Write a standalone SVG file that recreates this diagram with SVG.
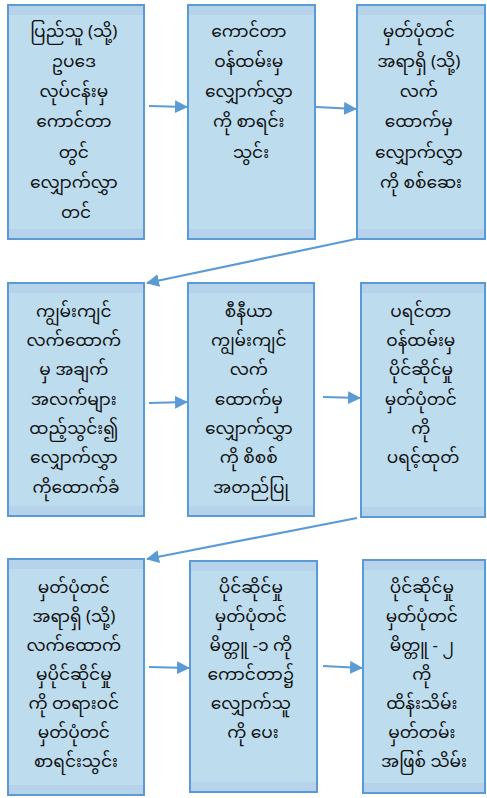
<svg xmlns="http://www.w3.org/2000/svg" width="487" height="798" viewBox="0 0 487 798">
  <defs>
    <linearGradient id="boxFill" x1="0" y1="0" x2="0" y2="1">
      <stop offset="0" stop-color="#B7D3EC"/>
      <stop offset="0.043" stop-color="#B7D3EC"/>
      <stop offset="0.044" stop-color="#BDDDEF"/>
      <stop offset="0.957" stop-color="#BDDDEF"/>
      <stop offset="0.958" stop-color="#B7D3EC"/>
      <stop offset="1" stop-color="#B7D3EC"/>
    </linearGradient>
    <marker id="arrow" markerUnits="userSpaceOnUse" markerWidth="13" markerHeight="13" refX="12" refY="6.5" orient="auto">
      <path d="M0,0 L13,6.5 L0,13 z" fill="#5B9BD5"/>
    </marker>
  </defs>
  <style>
    .box { fill: url(#boxFill); stroke: #5B9BD5; stroke-width: 2; }
    .lbl { font-family: "Noto Sans Myanmar", "Padauk", "Myanmar Text", "Noto Sans", sans-serif; font-size: 17px; fill: #111111; text-anchor: middle; }
    .conn { fill: none; stroke: #5B9BD5; stroke-width: 2.2; marker-end: url(#arrow); }
  </style>

  <!-- row 1 -->
  <g id="step1">
    <rect class="box" x="8" y="5" width="136" height="234"/>
    <text class="lbl">
      <tspan x="76" y="37">ပြည်သူ (သို့)</tspan>
      <tspan x="76" y="67">ဥပဒေ</tspan>
      <tspan x="76" y="97">လုပ်ငန်းမှ</tspan>
      <tspan x="76" y="127">ကောင်တာ</tspan>
      <tspan x="76" y="158">တွင်</tspan>
      <tspan x="76" y="188">လျှောက်လွှာ</tspan>
      <tspan x="76" y="218">တင်</tspan>
    </text>
  </g>
  <g id="step2">
    <rect class="box" x="188" y="5" width="127" height="234"/>
    <text class="lbl">
      <tspan x="251" y="37">ကောင်တာ</tspan>
      <tspan x="251" y="67">ဝန်ထမ်းမှ</tspan>
      <tspan x="251" y="97">လျှောက်လွှာ</tspan>
      <tspan x="251" y="127">ကို စာရင်း</tspan>
      <tspan x="251" y="158">သွင်း</tspan>
    </text>
  </g>
  <g id="step3">
    <rect class="box" x="357" y="5" width="128" height="234"/>
    <text class="lbl">
      <tspan x="421" y="37">မှတ်ပုံတင်</tspan>
      <tspan x="421" y="67">အရာရှိ (သို့)</tspan>
      <tspan x="421" y="97">လက်</tspan>
      <tspan x="421" y="127">ထောက်မှ</tspan>
      <tspan x="421" y="158">လျှောက်လွှာ</tspan>
      <tspan x="421" y="188">ကို စစ်ဆေး</tspan>
    </text>
  </g>

  <!-- row 2 -->
  <g id="step4">
    <rect class="box" x="8" y="283" width="136" height="233"/>
    <text class="lbl">
      <tspan x="76" y="317">ကျွမ်းကျင်</tspan>
      <tspan x="76" y="346">လက်ထောက်</tspan>
      <tspan x="76" y="375">မှ အချက်</tspan>
      <tspan x="76" y="405">အလက်များ</tspan>
      <tspan x="76" y="434">ထည့်သွင်း၍</tspan>
      <tspan x="76" y="463">လျှောက်လွှာ</tspan>
      <tspan x="76" y="493">ကိုထောက်ခံ</tspan>
    </text>
  </g>
  <g id="step5">
    <rect class="box" x="188" y="283" width="126" height="233"/>
    <text class="lbl">
      <tspan x="251" y="317">စီနီယာ</tspan>
      <tspan x="251" y="346">ကျွမ်းကျင်</tspan>
      <tspan x="251" y="375">လက်</tspan>
      <tspan x="251" y="405">ထောက်မှ</tspan>
      <tspan x="251" y="434">လျှောက်လွှာ</tspan>
      <tspan x="251" y="463">ကို စိစစ်</tspan>
      <tspan x="251" y="493">အတည်ပြု</tspan>
    </text>
  </g>
  <g id="step6">
    <rect class="box" x="361" y="283" width="124" height="234"/>
    <text class="lbl">
      <tspan x="423" y="317">ပရင်တာ</tspan>
      <tspan x="423" y="346">ဝန်ထမ်းမှ</tspan>
      <tspan x="423" y="375">ပိုင်ဆိုင်မှု</tspan>
      <tspan x="423" y="405">မှတ်ပုံတင်</tspan>
      <tspan x="423" y="434">ကို</tspan>
      <tspan x="423" y="463">ပရင့်ထုတ်</tspan>
    </text>
  </g>

  <!-- row 3 -->
  <g id="step7">
    <rect class="box" x="8" y="559" width="136" height="236"/>
    <text class="lbl">
      <tspan x="76" y="593">မှတ်ပုံတင်</tspan>
      <tspan x="76" y="622">အရာရှိ (သို့)</tspan>
      <tspan x="76" y="651">လက်ထောက်</tspan>
      <tspan x="76" y="680">မှပိုင်ဆိုင်မှု</tspan>
      <tspan x="76" y="709">ကို တရားဝင်</tspan>
      <tspan x="76" y="738">မှတ်ပုံတင်</tspan>
      <tspan x="76" y="767">စာရင်းသွင်း</tspan>
    </text>
  </g>
  <g id="step8">
    <rect class="box" x="190" y="561" width="127" height="231"/>
    <text class="lbl">
      <tspan x="253" y="593">ပိုင်ဆိုင်မှု</tspan>
      <tspan x="253" y="622">မှတ်ပုံတင်</tspan>
      <tspan x="253" y="651">မိတ္တူ -၁ ကို</tspan>
      <tspan x="253" y="680">ကောင်တာ၌</tspan>
      <tspan x="253" y="709">လျှောက်သူ</tspan>
      <tspan x="253" y="738">ကို ပေး</tspan>
    </text>
  </g>
  <g id="step9">
    <rect class="box" x="363" y="560" width="122" height="233"/>
    <text class="lbl">
      <tspan x="424" y="593">ပိုင်ဆိုင်မှု</tspan>
      <tspan x="424" y="622">မှတ်ပုံတင်</tspan>
      <tspan x="424" y="651">မိတ္တူ - ၂</tspan>
      <tspan x="424" y="680">ကို</tspan>
      <tspan x="424" y="709">ထိန်းသိမ်း</tspan>
      <tspan x="424" y="738">မှတ်တမ်း</tspan>
      <tspan x="424" y="767">အဖြစ် သိမ်း</tspan>
    </text>
  </g>

  <!-- connectors -->
  <g id="connectors">
    <line class="conn" x1="149" y1="106" x2="187" y2="107"/>
    <line class="conn" x1="316" y1="107" x2="356" y2="109"/>
    <line class="conn" x1="356" y1="239" x2="147" y2="283"/>
    <line class="conn" x1="149" y1="403" x2="187" y2="402"/>
    <line class="conn" x1="323" y1="397" x2="360" y2="398"/>
    <line class="conn" x1="357" y1="518" x2="147" y2="559"/>
    <line class="conn" x1="149" y1="667" x2="189" y2="668"/>
    <line class="conn" x1="323" y1="666" x2="362" y2="668"/>
  </g>
</svg>
